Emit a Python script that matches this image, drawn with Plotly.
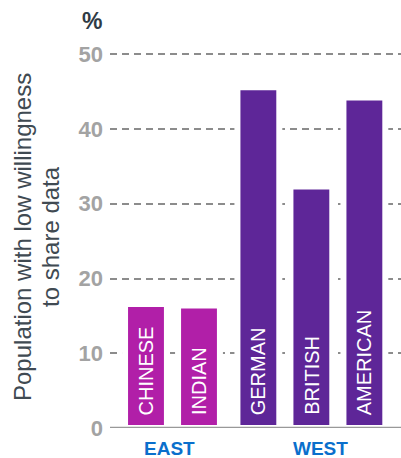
import plotly.graph_objects as go

# ---- data ----
categories = ["CHINESE", "INDIAN", "GERMAN", "BRITISH", "AMERICAN"]
groups = ["EAST", "EAST", "WEST", "WEST", "WEST"]
values = [16.6, 16.4, 45.6, 32.3, 44.2]
y_ticks = [0, 10, 20, 30, 40, 50]
group_names = ["EAST", "WEST"]

# ---- styles ----
EAST_COLOR = "#B11FA8"
WEST_COLOR = "#5E2698"
GROUP_LABEL_COLOR = "#0A6FCC"
FONT = "Liberation Sans, Arial, sans-serif"
GROUP_GAP = 0.12
GROUP_LABEL_SHIFT = {"EAST": -3, "WEST": 9}

# positions computed from order + group gap
positions = []
pos = 0.0
for i, g in enumerate(groups):
    if i > 0:
        pos += 1.0 + (GROUP_GAP if groups[i - 1] != g else 0.0)
    positions.append(pos)

colors = [EAST_COLOR if g == "EAST" else WEST_COLOR for g in groups]

fig = go.Figure()
fig.add_trace(go.Bar(
    x=positions, y=values, width=0.79,
    marker=dict(color=colors, line=dict(color="white", width=6)),
    hoverinfo="skip",
))

annotations = []
for x, c in zip(positions, categories):
    annotations.append(dict(
        x=x, y=0, xref="x", yref="y", text=c, showarrow=False,
        textangle=-90, yanchor="bottom", xanchor="center", yshift=11,
        font=dict(family=FONT, size=20, color="white"),
    ))
for gname in group_names:
    xs = [p for p, g in zip(positions, groups) if g == gname]
    annotations.append(dict(
        x=sum(xs) / len(xs), y=0, xref="x", yref="y", text="<b>%s</b>" % gname,
        showarrow=False, yanchor="top", xanchor="center", yshift=-8,
        xshift=GROUP_LABEL_SHIFT[gname],
        font=dict(family=FONT, size=19, color=GROUP_LABEL_COLOR),
    ))
annotations.append(dict(
    x=0, y=1, xref="paper", yref="paper", text="<b>%</b>", showarrow=False,
    xanchor="right", yanchor="bottom", xshift=-6, yshift=16,
    font=dict(family=FONT, size=23, color="#2F3B45"),
))
# y-axis title, two centred lines
title_lines = ["Population with low willingness", "to share data"]
for line, xpx in zip(title_lines, [23, 51]):
    annotations.append(dict(
        x=(xpx - 110) / 291, y=(428 - 238) / 374, xref="paper", yref="paper",
        text=line, showarrow=False, textangle=-90,
        xanchor="center", yanchor="middle",
        font=dict(family=FONT, size=24, color="#404A52"),
    ))

fig.update_layout(
    width=401, height=458,
    margin=dict(l=110, r=0, t=52, b=30),
    plot_bgcolor="white", paper_bgcolor="white",
    showlegend=False,
    annotations=annotations,
    shapes=[dict(type="line", xref="paper", yref="y", x0=0, x1=1, y0=0, y1=0,
                 line=dict(color="#999999", width=2.5), layer="above")],
    xaxis=dict(range=[positions[0] - 0.679, positions[0] + 4.811],
               showticklabels=False, showgrid=False, zeroline=False,
               showline=False, fixedrange=True),
    yaxis=dict(range=[0, 50.3], tickvals=y_ticks, ticktext=[str(v) for v in y_ticks],
               showgrid=True, gridcolor="#8c8c8c", gridwidth=2, griddash="7px,5px",
               zeroline=False, showline=False, ticks="", ticklabelstandoff=6,
               tickfont=dict(family=FONT, size=22, color="#A3A3A3", weight="bold"),
               fixedrange=True),
)

fig.write_html("out.html")
